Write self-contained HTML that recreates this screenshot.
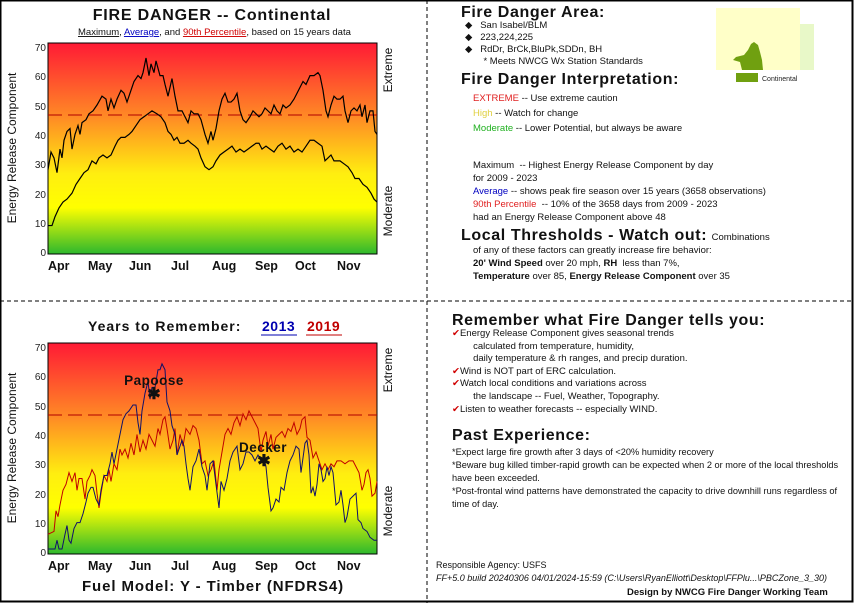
<!DOCTYPE html>
<html><head><meta charset="utf-8"><style>
body{margin:0;width:854px;height:603px;background:#fff;font-family:"Liberation Sans",sans-serif;position:relative;overflow:hidden}
.a{position:absolute;white-space:nowrap}
.b{font-weight:bold}
.h{font-weight:bold;font-size:16px;letter-spacing:0.6px;color:#111}
</style></head><body>
<svg width="854" height="603" style="position:absolute;left:0;top:0" font-family="Liberation Sans, sans-serif">
<defs>
<linearGradient id="g" x1="0" y1="0" x2="0" y2="1">
<stop offset="0" stop-color="#ff1a35"/>
<stop offset="0.35" stop-color="#ff8a25"/>
<stop offset="0.62" stop-color="#ffee10"/>
<stop offset="0.78" stop-color="#ffff00"/>
<stop offset="1" stop-color="#2db82d"/>
</linearGradient>
</defs>
<rect x="0.5" y="0.5" width="852" height="601" fill="none" stroke="#000" stroke-width="2"/>
<line x1="427" y1="0" x2="427" y2="603" stroke="#000" stroke-dasharray="4,3"/>
<line x1="0" y1="301" x2="854" y2="301" stroke="#000" stroke-dasharray="4,3"/>

<!-- top chart -->
<rect x="48" y="43" width="329" height="211" fill="url(#g)" stroke="#000"/>
<g font-size="10" fill="#222" text-anchor="end">
<text x="46" y="51">70</text><text x="46" y="80">60</text><text x="46" y="110">50</text><text x="46" y="139">40</text><text x="46" y="168">30</text><text x="46" y="198">20</text><text x="46" y="227">10</text><text x="46" y="256">0</text>
</g>
<g font-size="12.5" font-weight="bold" fill="#111">
<text x="48" y="270">Apr</text><text x="88" y="270">May</text><text x="129" y="270">Jun</text><text x="171" y="270">Jul</text><text x="212" y="270">Aug</text><text x="255" y="270">Sep</text><text x="295" y="270">Oct</text><text x="337" y="270">Nov</text>
</g>
<text transform="translate(16,148) rotate(-90)" text-anchor="middle" font-size="12" fill="#111">Energy Release Component</text>
<text transform="translate(392,70) rotate(-90)" text-anchor="middle" font-size="12" fill="#111">Extreme</text>
<text transform="translate(392,211) rotate(-90)" text-anchor="middle" font-size="12" fill="#111">Moderate</text>
<line x1="48" y1="115" x2="377" y2="115" stroke="#b00000" stroke-dasharray="14,6"/>
<g transform="translate(0,252) scale(1,-2.94)" fill="none" stroke="#000" stroke-width="1.2">
<polyline vector-effect="non-scaling-stroke" points="48,28 51,34 54,32 57,27 60,35 62,32 64,38 67,41 70,42 72,35 75,40 78,43 80,40 82,44 86,45 89,47 93,48 97,50 102,53 106,52 108,48 111,52 114,49 117,52 121,55 124,54 127,51 130,54 134,58 138,60 141,59 143,61 146,66 149,60 151,64 154,61 156,65 160,60 163,60 165,57 168,53 170,56 172,59 175,53 178,48 182,48 185,46 188,44 191,48 194,47 198,47 201,45 205,40 208,37 211,41 213,38 216,42 219,48 222,52 225,54 228,51 231,51 234,52 237,54 240,48 243,45 246,44 250,46 253,48 256,47 259,46 262,47 265,49 268,48 271,47 274,50 277,48 280,47 283,50 286,49 290,50 294,52 297,54 300,56 303,58 306,57 310,60 314,60 318,61 320,60 323,55 326,48 328,46 331,50 334,53 337,52 340,52 343,53 345,48 348,44 351,48 354,49 357,48 360,50 362,46 365,50 367,44 370,48 373,48 375,41 377,40"/>
<polyline vector-effect="non-scaling-stroke" points="48,9 52,9 55,12 59,15 63,17 67,18 72,20 76,23 80,25 84,27 88,28 92,31 96,30 99,32 103,33 107,32 111,33 115,36 118,38 121,39 125,39 129,40 132,41 136,43 140,45 144,46 148,47 152,48 157,47 161,46 165,44 168,41 171,40 174,38 177,39 180,37 184,37 188,38 191,37 195,36 198,35 201,32 205,29 209,28 213,29 216,31 220,33 224,34 228,35 232,36 236,34 240,35 244,34 248,35 252,36 256,37 259,37 262,35 266,36 270,35 274,34 278,36 282,37 286,35 290,36 294,34 298,35 302,34 306,36 310,38 314,38 318,37 322,36 325,31 328,32 331,33 334,31 337,31 340,31 344,30 348,29 352,27 355,25 359,25 363,23 367,22 371,20 374,18 377,17"/>
</g>
<text x="212" y="20" text-anchor="middle" font-size="16" letter-spacing="0.8" font-weight="bold" fill="#111">FIRE DANGER -- Continental</text>
<text x="78" y="35" font-size="9.5" fill="#111"><tspan text-decoration="underline">Maximum</tspan>, <tspan fill="#0000c0" text-decoration="underline">Average</tspan>, and <tspan fill="#d00000" text-decoration="underline">90th Percentile</tspan>, based on 15 years data</text>

<!-- bottom chart -->
<rect x="48" y="343" width="329" height="211" fill="url(#g)" stroke="#000"/>
<g font-size="10" fill="#222" text-anchor="end">
<text x="46" y="351">70</text><text x="46" y="380">60</text><text x="46" y="410">50</text><text x="46" y="439">40</text><text x="46" y="468">30</text><text x="46" y="498">20</text><text x="46" y="527">10</text><text x="46" y="556">0</text>
</g>
<g font-size="12.5" font-weight="bold" fill="#111">
<text x="48" y="570">Apr</text><text x="88" y="570">May</text><text x="129" y="570">Jun</text><text x="171" y="570">Jul</text><text x="212" y="570">Aug</text><text x="255" y="570">Sep</text><text x="295" y="570">Oct</text><text x="337" y="570">Nov</text>
</g>
<text transform="translate(16,448) rotate(-90)" text-anchor="middle" font-size="12" fill="#111">Energy Release Component</text>
<text transform="translate(392,370) rotate(-90)" text-anchor="middle" font-size="12" fill="#111">Extreme</text>
<text transform="translate(392,511) rotate(-90)" text-anchor="middle" font-size="12" fill="#111">Moderate</text>
<line x1="48" y1="415" x2="377" y2="415" stroke="#b00000" stroke-dasharray="14,6"/>
<g transform="translate(0,552) scale(1,-2.94)" fill="none" stroke-width="1">
<polyline vector-effect="non-scaling-stroke" stroke="#c00000" points="48,6 54,7 56,14 58,12 60,16 63,21 66,23 69,27 72,24 75,27 77,21 79,25 82,25 85,18 87,24 90,26 92,28 95,26 97,20 99,15 101,20 104,26 107,24 109,28 111,24 114,30 117,28 120,35 122,33 125,35 128,32 131,37 134,33 137,40 140,34 143,38 146,35 149,40 152,38 155,36 158,42 160,40 163,45 165,46 167,42 170,35 173,38 175,42 177,33 180,40 183,36 186,42 190,40 193,43 196,42 199,38 202,30 205,31 208,26 211,28 214,31 217,21 219,28 222,34 225,40 228,42 231,40 234,44 237,46 240,43 243,47 246,45 249,48 252,46 255,44 258,42 261,34 263,38 266,41 268,36 271,40 273,35 276,39 279,40 282,41 285,39 288,42 291,41 294,44 297,40 300,42 302,45 305,46 307,39 310,38 313,32 316,34 319,31 322,28 325,30 328,28 331,30 334,29 337,31 341,31 345,30 349,31 353,31 356,29 359,27 362,21 364,23 366,27 368,28 370,25 372,19 375,20 377,24"/>
<polyline vector-effect="non-scaling-stroke" stroke="#10106a" points="48,1 55,1 57,4 59,1 62,1 65,6 67,9 69,4 71,3 74,8 77,10 80,10 83,13 86,17 88,20 91,22 93,22 96,18 99,16 101,21 104,26 107,26 110,30 112,34 114,30 117,35 120,40 123,45 126,47 129,48 133,50 136,50 138,44 140,40 142,48 145,54 148,58 150,52 152,56 155,56 158,62 160,62 162,64 165,62 167,51 170,48 172,43 175,40 177,33 179,35 182,38 184,36 186,30 188,25 190,21 193,29 196,31 199,35 202,29 205,26 207,21 210,30 213,31 216,23 219,15 221,24 224,21 227,25 230,31 233,34 237,36 240,28 243,30 246,34 249,34 252,33 255,31 258,33 261,31 264,32 266,29 268,22 271,14 273,15 276,18 279,17 281,22 284,21 287,27 290,31 293,33 296,36 299,35 301,27 303,32 305,37 307,38 309,33 311,20 313,22 315,19 317,23 319,30 321,28 323,24 325,25 327,29 329,26 331,29 333,27 336,16 339,17 341,21 343,16 345,10 347,12 350,18 353,19 356,20 358,11 361,10 363,8 367,7 370,5 374,4 377,4"/>
</g>
<text x="154" y="385" text-anchor="middle" font-size="13.5" letter-spacing="0.5" font-weight="bold" fill="#111">Papoose</text>
<text x="154" y="399" text-anchor="middle" font-size="16" font-weight="bold" fill="#111">✱</text>
<text x="263" y="452" text-anchor="middle" font-size="13.5" letter-spacing="0.5" font-weight="bold" fill="#111">Decker</text>
<text x="264" y="466" text-anchor="middle" font-size="16" font-weight="bold" fill="#111">✱</text>
<text x="88" y="331" font-size="14" letter-spacing="1" font-weight="bold" fill="#111">Years to Remember:</text>
<text x="262" y="331" font-size="14" letter-spacing="0.5" font-weight="bold" fill="#0000b0">2013</text>
<line x1="261" y1="335" x2="297" y2="335" stroke="#0000b0"/>
<text x="307" y="331" font-size="14" letter-spacing="0.5" font-weight="bold" fill="#c00000">2019</text>
<line x1="306" y1="335" x2="342" y2="335" stroke="#c00000"/>
<text x="213" y="591" text-anchor="middle" font-size="15" letter-spacing="0.9" font-weight="bold" fill="#111">Fuel Model: Y - Timber (NFDRS4)</text>

<!-- map -->
<rect x="716" y="8" width="84" height="62" fill="#ffffc8"/>
<rect x="800" y="24" width="14" height="46" fill="#e8f8c8"/>
<path d="M742,70 L740,62 L733,60 L736,57 L744,55 L748,50 L751,44 L754,42 L758,45 L760,52 L762,60 L763,70 Z" fill="#70a010"/>
<rect x="736" y="73" width="22" height="9" fill="#70a010"/>
<text x="762" y="81" font-size="7" fill="#222">Continental</text>
</svg>

<div class="a h" style="left:461px;top:4px">Fire Danger Area:</div>
<div class="a" style="left:465px;top:20px;font-size:9.5px;line-height:12px;color:#111">◆&nbsp;&nbsp;&nbsp;San Isabel/BLM<br>◆&nbsp;&nbsp;&nbsp;223,224,225<br>◆&nbsp;&nbsp;&nbsp;RdDr, BrCk,BluPk,SDDn, BH<br>&nbsp;&nbsp;&nbsp;&nbsp;&nbsp;&nbsp;&nbsp;* Meets NWCG Wx Station Standards</div>
<div class="a h" style="left:461px;top:71px">Fire Danger Interpretation:</div>
<div class="a" style="left:473px;top:91px;font-size:9.5px;line-height:15px;color:#111"><span style="color:#e02020">EXTREME</span> -- Use extreme caution<br><span style="color:#e0d040">High</span> -- Watch for change<br><span style="color:#20b020">Moderate</span> -- Lower Potential, but always be aware</div>
<div class="a" style="left:473px;top:159px;font-size:9.5px;line-height:13px;color:#111">Maximum &nbsp;-- Highest Energy Release Component by day<br>for 2009 - 2023<br><span style="color:#0000c0">Average</span> -- shows peak fire season over 15 years (3658 observations)<br><span style="color:#e02020">90th Percentile</span> &nbsp;-- 10% of the 3658 days from 2009 - 2023<br>had an Energy Release Component above 48</div>
<div class="a" style="left:461px;top:227px;color:#111"><span class="h">Local Thresholds - Watch out:</span> <span style="font-size:9.5px">Combinations</span></div>
<div class="a" style="left:473px;top:244px;font-size:9.5px;line-height:13px;color:#111">of any of these factors can greatly increase fire behavior:<br><b>20' Wind Speed</b> over 20 mph, <b>RH</b> &nbsp;less than 7%,<br><b>Temperature</b> over 85, <b>Energy Release Component</b> over 35</div>

<div class="a h" style="left:452px;top:312px">Remember what Fire Danger tells you:</div>
<div class="a" style="left:452px;top:328px;font-size:9.5px;line-height:12.6px;color:#111"><span style="color:#d00000">✔</span>Energy Release Component gives seasonal trends<br>&nbsp;&nbsp;&nbsp;&nbsp;&nbsp;&nbsp;&nbsp;&nbsp;calculated from temperature, humidity,<br>&nbsp;&nbsp;&nbsp;&nbsp;&nbsp;&nbsp;&nbsp;&nbsp;daily temperature &amp; rh ranges, and precip duration.<br><span style="color:#d00000">✔</span>Wind is NOT part of ERC calculation.<br><span style="color:#d00000">✔</span>Watch local conditions and variations across<br>&nbsp;&nbsp;&nbsp;&nbsp;&nbsp;&nbsp;&nbsp;&nbsp;the landscape -- Fuel, Weather, Topography.<br><span style="color:#d00000">✔</span>Listen to weather forecasts -- especially WIND.</div>
<div class="a h" style="left:452px;top:427px">Past Experience:</div>
<div class="a" style="left:452px;top:446px;font-size:9.2px;line-height:13px;color:#111">*Expect large fire growth after 3 days of &lt;20% humidity recovery<br>*Beware bug killed timber-rapid growth can be expected when 2 or more of the local thresholds<br>have been exceeded.<br>*Post-frontal wind patterns have demonstrated the capacity to drive downhill runs regardless of<br>time of day.</div>
<div class="a" style="left:436px;top:560px;font-size:9px;color:#111">Responsible Agency: USFS</div>
<div class="a" style="left:436px;top:573px;font-size:9px;font-style:italic;color:#111">FF+5.0 build 20240306 04/01/2024-15:59 (C:\Users\RyanElliott\Desktop\FFPlu...\PBCZone_3_30)</div>
<div class="a b" style="left:627px;top:587px;font-size:9.5px;color:#111">Design by NWCG Fire Danger Working Team</div>
</body></html>
